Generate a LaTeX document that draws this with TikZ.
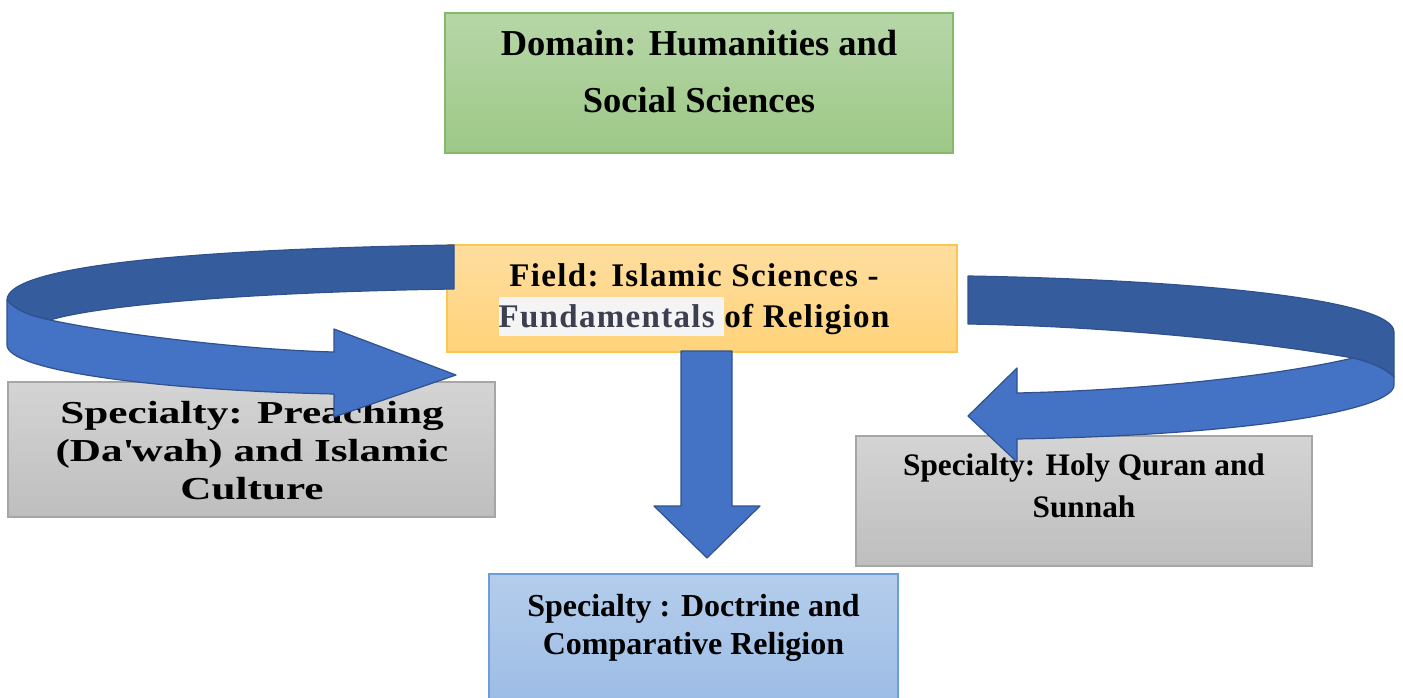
\documentclass[tikz,border=0pt]{standalone}
\usepackage{fontspec}
\setmainfont{Liberation Serif}
\newfontfamily\widefont{Liberation Serif}[FakeStretch=1.35]
\newfontfamily\spacedfont{Liberation Serif}[LetterSpace=4]
\definecolor{dtop}{HTML}{B6D6A7}
\definecolor{dbot}{HTML}{9DC887}
\definecolor{dbord}{HTML}{86B86A}
\definecolor{ftop}{HTML}{FEDD9E}
\definecolor{fbot}{HTML}{FFD37A}
\definecolor{fbord}{HTML}{F9C74F}
\definecolor{gtop}{HTML}{D4D4D4}
\definecolor{gbot}{HTML}{BEBEBE}
\definecolor{gbord}{HTML}{A6A6A6}
\definecolor{btop}{HTML}{B4CDEB}
\definecolor{bbot}{HTML}{9BBBE5}
\definecolor{bbord}{HTML}{6D9EDB}
\definecolor{arlight}{HTML}{4472C4}
\definecolor{ardark}{HTML}{355C9C}
\definecolor{arline}{HTML}{2F528F}
\definecolor{hl}{HTML}{F4F4F4}
\definecolor{fundc}{HTML}{3B3F4F}
\begin{document}
\begin{tikzpicture}[x=1pt,y=-1pt,
  box/.style={rectangle, line width=1.2pt, inner sep=0pt},
  txt/.style={align=center, inner sep=0pt},
  backband/.style={fill=ardark, draw=arline, line width=1.2pt, line join=round},
  frontband/.style={fill=arlight, draw=arline, line width=1.2pt, line join=round}]
\useasboundingbox (0,0) rectangle (1403,698);

% boxes
\node[box, top color=dtop, bottom color=dbot, draw=dbord, minimum width=508pt, minimum height=140pt] (dom) at (699,83) {};
\node[box, top color=ftop, bottom color=fbot, draw=fbord, minimum width=510pt, minimum height=107pt] (field) at (702,298.5) {};
\node[box, top color=gtop, bottom color=gbot, draw=gbord, minimum width=487pt, minimum height=135pt] (pre) at (251.5,449.5) {};
\node[box, top color=gtop, bottom color=gbot, draw=gbord, minimum width=456pt, minimum height=130pt] (quran) at (1084,501) {};
\node[box, top color=btop, bottom color=bbot, draw=bbord, minimum width=409pt, minimum height=140pt] (doc) at (693.5,644) {};

% texts
\node[txt, font=\bfseries\fontsize{36.5}{57}\selectfont] (domT) at (699,72) {Domain: Humanities and\\Social Sciences};
\node[txt, font=\spacedfont\bfseries\fontsize{33}{41}\selectfont] (fieldT) at (694,300)
  {Field: Islamic Sciences -\\{\fboxsep=0pt\colorbox{hl}{\color{fundc}\rule[-8pt]{0pt}{39pt}Fundamentals\ }}of Religion};
\node[txt, font=\widefont\bfseries\fontsize{32}{38}\selectfont] (preT) at (252,451)
  {Specialty: Preaching\\(Da\textquotesingle wah) and Islamic\\Culture};
\node[txt, font=\bfseries\fontsize{31.3}{42}\selectfont] (quranT) at (1084,486) {Specialty: Holy Quran and\\Sunnah};
\node[txt, font=\bfseries\fontsize{32}{38}\selectfont] (docT) at (693.5,628) {Specialty : Doctrine and\\Comparative Religion};

% down block arrow from field to doctrine box
\draw[frontband] (681,351) -- (732,351) -- (732,506) -- (760,506) -- (707,558) -- (654,506) -- (681,506) -- cycle;

% left curved arrow
\draw[backband] (454,245) .. controls (150,250) and (7,270) .. (7,300)
  .. controls (15,310) and (30,316) .. (50,320)
  .. controls (100,305) and (250,292) .. (454,289) -- cycle;
\draw[frontband] (7,300) .. controls (15,310) and (30,316) .. (50,320)
  .. controls (120,335) and (250,350) .. (334,352) -- (334,329) -- (456,375) -- (334,417) -- (334,394)
  .. controls (150,390) and (7,370) .. (7,345) -- cycle;

% right curved arrow
\draw[backband] (968,276) .. controls (1200,280) and (1394,300) .. (1394,332) -- (1394,377)
  .. controls (1385,368) and (1370,362) .. (1353,358)
  .. controls (1250,340) and (1100,326) .. (968,324) -- cycle;
\draw[frontband] (1353,358) .. controls (1280,375) and (1150,390) .. (1017,393) -- (1017,368) -- (968,416) -- (1017,462) -- (1017,439)
  .. controls (1250,435) and (1394,410) .. (1394,385) -- (1394,377)
  .. controls (1385,368) and (1370,362) .. (1353,358) -- cycle;
\end{tikzpicture}
\end{document}
